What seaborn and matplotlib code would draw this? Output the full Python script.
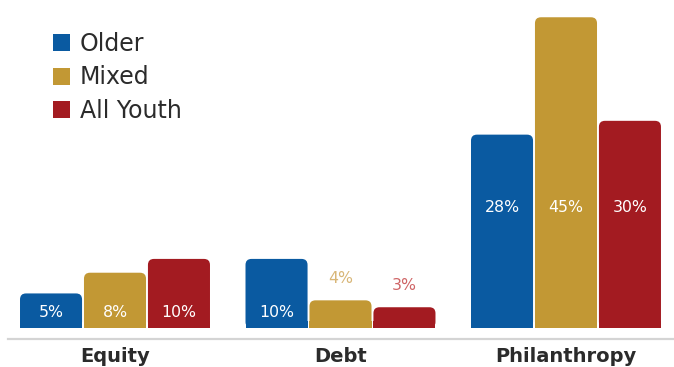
import matplotlib
matplotlib.use("Agg")
import matplotlib.pyplot as plt
import seaborn as sns
import pandas as pd
from matplotlib.patches import FancyBboxPatch, Rectangle, Patch

categories = ["Equity", "Debt", "Philanthropy"]
groups = ["Older", "Mixed", "All Youth"]
older = [5, 10, 28]
mixed = [8, 4, 45]
all_youth = [10, 3, 30]
colors = ["#0a5aa1", "#c29834", "#a31b21"]
outside_colors = ["#6f9fcc", "#d8b677", "#cf6566"]

rows = []
for g, vals in zip(groups, [older, mixed, all_youth]):
    for c, v in zip(categories, vals):
        rows.append({"category": c, "group": g, "value": v})
df = pd.DataFrame(rows)

sns.set_style("white")
plt.rcParams["font.family"] = ["DejaVu Sans"]

fig = plt.figure(figsize=(6.74, 3.67), dpi=100)
ax = fig.add_axes([8 / 674, 28 / 367, 666 / 674, 339 / 367])

sns.barplot(data=df, x="category", y="value", hue="group", order=categories,
            hue_order=groups, palette=colors, width=0.851, gap=0.03,
            ax=ax, legend=False, saturation=1)

ax.set_xlim(-0.4745, 2.479)
ax.set_ylim(-1.6, 47.5)

# pixel scales
fig.canvas.draw()
bb = ax.get_window_extent()
x0, x1 = ax.get_xlim()
y0, y1 = ax.get_ylim()
xpp = (x1 - x0) / bb.width
ypp = (y1 - y0) / bb.height
aspect = ypp / xpp
r_px = 6

bars = list(ax.patches)
for p in bars:
    x, w, h = p.get_x(), p.get_width(), p.get_height()
    fc = p.get_facecolor()
    p.set_visible(False)
    rb = FancyBboxPatch((x, 0), w, h,
                        boxstyle=f"round,pad=0,rounding_size={r_px * xpp}",
                        mutation_aspect=aspect, facecolor=fc, edgecolor="none", zorder=3)
    ax.add_patch(rb)
    ax.add_patch(Rectangle((x, 0), w, min(h, r_px * ypp * 1.2), facecolor=fc,
                           edgecolor="none", zorder=3))

# value labels
for gi, (g, vals) in enumerate(zip(groups, [older, mixed, all_youth])):
    for ci, v in enumerate(vals):
        p = bars[gi * len(categories) + ci]
        xc = p.get_x() + p.get_width() / 2
        grp_max = max(older[ci], mixed[ci], all_youth[ci])
        if v >= 5:
            yy = 17.5 if grp_max > 20 else 2.3
            ax.text(xc, yy, f"{v}%", ha="center", va="center", color="white",
                    fontsize=11.3, zorder=5)
        else:
            ax.text(xc, v + 3.2, f"{v}%", ha="center", va="center",
                    color=outside_colors[gi], fontsize=11.3, zorder=5)

for s in ["top", "right", "left"]:
    ax.spines[s].set_visible(False)
ax.spines["bottom"].set_color("#d4d4d4")
ax.spines["bottom"].set_linewidth(1.6)
ax.set_yticks([])
ax.set_xlabel("")
ax.set_ylabel("")
ax.tick_params(axis="x", length=0, pad=6)
ax.set_xticks(range(len(categories)))
ax.set_xticklabels(categories, fontsize=14, fontweight="bold", color="#2b2b2b")

handles = [Patch(facecolor=c, edgecolor="none") for c in colors]
fig.legend(handles, groups, loc="upper left", bbox_to_anchor=(53 / 674, 1 - 32 / 367),
           frameon=False, fontsize=17, handlelength=0.72, handleheight=0.72,
           handletextpad=0.42, labelspacing=0.4, borderpad=0, borderaxespad=0,
           labelcolor="#2b2b2b")

fig.savefig("out.png", dpi=100)
